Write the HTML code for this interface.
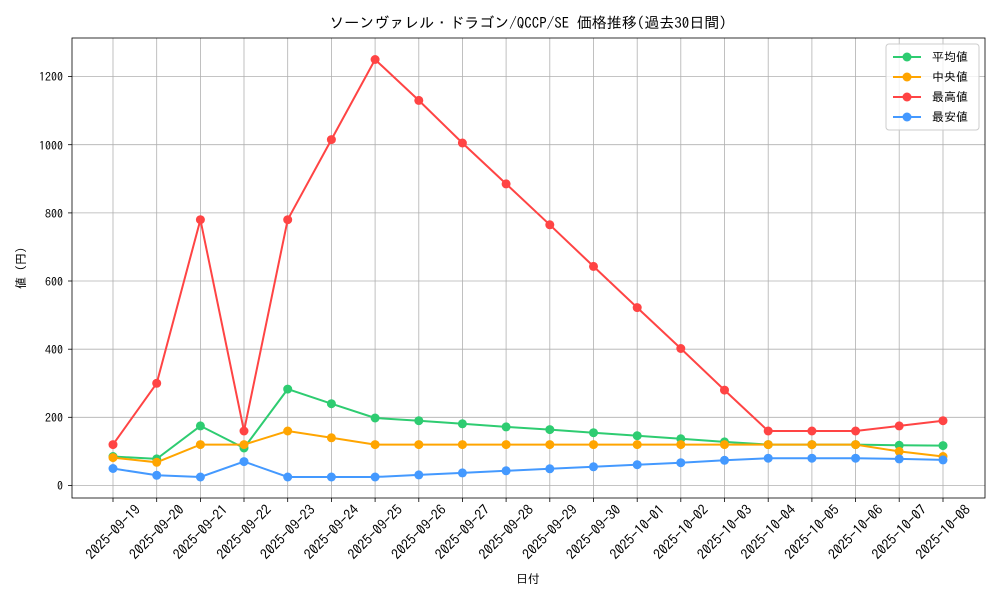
<!DOCTYPE html>
<html><head><meta charset="utf-8"><style>
body{margin:0;background:#fff}
svg text{font-family:"IPAGothic","Noto Sans CJK JP",sans-serif;fill:#000}
</style></head><body>
<svg width="1000" height="600" xmlns="http://www.w3.org/2000/svg">
<rect width="1000" height="600" fill="#fff"/>
<text x="528" y="28" font-size="15" text-anchor="middle">ソーンヴァレル・ドラゴン/QCCP/SE 価格推移(過去30日間)</text>
<g stroke="#b0b0b0" stroke-width="0.8">
<line x1="72" x2="985" y1="485.5" y2="485.5"/><line x1="72" x2="985" y1="417.3" y2="417.3"/><line x1="72" x2="985" y1="349.2" y2="349.2"/><line x1="72" x2="985" y1="281" y2="281"/><line x1="72" x2="985" y1="212.9" y2="212.9"/><line x1="72" x2="985" y1="144.7" y2="144.7"/><line x1="72" x2="985" y1="76.6" y2="76.6"/>
<line y1="38" y2="498" x1="113" x2="113"/><line y1="38" y2="498" x1="156.7" x2="156.7"/><line y1="38" y2="498" x1="200.4" x2="200.4"/><line y1="38" y2="498" x1="244" x2="244"/><line y1="38" y2="498" x1="287.7" x2="287.7"/><line y1="38" y2="498" x1="331.4" x2="331.4"/><line y1="38" y2="498" x1="375.1" x2="375.1"/><line y1="38" y2="498" x1="418.8" x2="418.8"/><line y1="38" y2="498" x1="462.4" x2="462.4"/><line y1="38" y2="498" x1="506.1" x2="506.1"/><line y1="38" y2="498" x1="549.8" x2="549.8"/><line y1="38" y2="498" x1="593.5" x2="593.5"/><line y1="38" y2="498" x1="637.2" x2="637.2"/><line y1="38" y2="498" x1="680.8" x2="680.8"/><line y1="38" y2="498" x1="724.5" x2="724.5"/><line y1="38" y2="498" x1="768.2" x2="768.2"/><line y1="38" y2="498" x1="811.9" x2="811.9"/><line y1="38" y2="498" x1="855.6" x2="855.6"/><line y1="38" y2="498" x1="899.2" x2="899.2"/><line y1="38" y2="498" x1="943" x2="943"/>
</g>
<rect x="72" y="38" width="913" height="460" fill="none" stroke="#000" stroke-width="0.8"/>
<g font-size="12" text-anchor="end">
<text x="63" y="490">0</text><text x="63" y="422">200</text><text x="63" y="354">400</text><text x="63" y="286">600</text><text x="63" y="218">800</text><text x="63" y="150">1000</text><text x="63" y="81">1200</text>
</g>
<g stroke="#000" stroke-width="0.8">
<line x1="68" x2="72" y1="485.5" y2="485.5"/><line x1="68" x2="72" y1="417.3" y2="417.3"/><line x1="68" x2="72" y1="349.2" y2="349.2"/><line x1="68" x2="72" y1="281" y2="281"/><line x1="68" x2="72" y1="212.9" y2="212.9"/><line x1="68" x2="72" y1="144.7" y2="144.7"/><line x1="68" x2="72" y1="76.6" y2="76.6"/>
<line y1="498" y2="502" x1="113" x2="113"/><line y1="498" y2="502" x1="156.7" x2="156.7"/><line y1="498" y2="502" x1="200.4" x2="200.4"/><line y1="498" y2="502" x1="244" x2="244"/><line y1="498" y2="502" x1="287.7" x2="287.7"/><line y1="498" y2="502" x1="331.4" x2="331.4"/><line y1="498" y2="502" x1="375.1" x2="375.1"/><line y1="498" y2="502" x1="418.8" x2="418.8"/><line y1="498" y2="502" x1="462.4" x2="462.4"/><line y1="498" y2="502" x1="506.1" x2="506.1"/><line y1="498" y2="502" x1="549.8" x2="549.8"/><line y1="498" y2="502" x1="593.5" x2="593.5"/><line y1="498" y2="502" x1="637.2" x2="637.2"/><line y1="498" y2="502" x1="680.8" x2="680.8"/><line y1="498" y2="502" x1="724.5" x2="724.5"/><line y1="498" y2="502" x1="768.2" x2="768.2"/><line y1="498" y2="502" x1="811.9" x2="811.9"/><line y1="498" y2="502" x1="855.6" x2="855.6"/><line y1="498" y2="502" x1="899.2" x2="899.2"/><line y1="498" y2="502" x1="943" x2="943"/>
</g>
<g font-size="14" text-anchor="middle">
<text dy="0.35em" transform="translate(113,532) rotate(-45)">2025-09-19</text>
<text dy="0.35em" transform="translate(156.7,532) rotate(-45)">2025-09-20</text>
<text dy="0.35em" transform="translate(200.4,532) rotate(-45)">2025-09-21</text>
<text dy="0.35em" transform="translate(244,532) rotate(-45)">2025-09-22</text>
<text dy="0.35em" transform="translate(287.7,532) rotate(-45)">2025-09-23</text>
<text dy="0.35em" transform="translate(331.4,532) rotate(-45)">2025-09-24</text>
<text dy="0.35em" transform="translate(375.1,532) rotate(-45)">2025-09-25</text>
<text dy="0.35em" transform="translate(418.8,532) rotate(-45)">2025-09-26</text>
<text dy="0.35em" transform="translate(462.4,532) rotate(-45)">2025-09-27</text>
<text dy="0.35em" transform="translate(506.1,532) rotate(-45)">2025-09-28</text>
<text dy="0.35em" transform="translate(549.8,532) rotate(-45)">2025-09-29</text>
<text dy="0.35em" transform="translate(593.5,532) rotate(-45)">2025-09-30</text>
<text dy="0.35em" transform="translate(637.2,532) rotate(-45)">2025-10-01</text>
<text dy="0.35em" transform="translate(680.8,532) rotate(-45)">2025-10-02</text>
<text dy="0.35em" transform="translate(724.5,532) rotate(-45)">2025-10-03</text>
<text dy="0.35em" transform="translate(768.2,532) rotate(-45)">2025-10-04</text>
<text dy="0.35em" transform="translate(811.9,532) rotate(-45)">2025-10-05</text>
<text dy="0.35em" transform="translate(855.6,532) rotate(-45)">2025-10-06</text>
<text dy="0.35em" transform="translate(899.2,532) rotate(-45)">2025-10-07</text>
<text dy="0.35em" transform="translate(943,532) rotate(-45)">2025-10-08</text>
</g>
<text x="528" y="583" font-size="12" text-anchor="middle">日付</text>
<text transform="translate(25,268) rotate(-90)" font-size="12" text-anchor="middle">値 (円)</text>
<polyline fill="none" stroke="#2ecc71" stroke-width="2" points="113,456.5 156.7,458.9 200.4,425.9 244,448 287.7,389.1 331.4,403.7 375.1,418 418.8,420.7 462.4,423.8 506.1,426.9 549.8,429.6 593.5,432.7 637.2,435.7 680.8,438.8 724.5,441.9 768.2,444.6 811.9,444.6 855.6,444.6 899.2,445.3 943,445.6"/>
<polyline fill="none" stroke="#ffa500" stroke-width="2" points="113,457.6 156.7,462.3 200.4,444.6 244,444.6 287.7,431 331.4,437.8 375.1,444.6 418.8,444.6 462.4,444.6 506.1,444.6 549.8,444.6 593.5,444.6 637.2,444.6 680.8,444.6 724.5,444.6 768.2,444.6 811.9,444.6 855.6,444.6 899.2,451.4 943,456.5"/>
<polyline fill="none" stroke="#ff4444" stroke-width="2" points="113,444.6 156.7,383.3 200.4,219.7 244,431 287.7,219.7 331.4,139.6 375.1,59.5 418.8,100.4 462.4,143 506.1,183.9 549.8,224.8 593.5,266.4 637.2,307.6 680.8,348.5 724.5,390.1 768.2,431 811.9,431 855.6,431 899.2,425.9 943,420.7"/>
<polyline fill="none" stroke="#4499ff" stroke-width="2" points="113,468.5 156.7,475.3 200.4,477 244,461.6 287.7,477 331.4,477 375.1,477 418.8,474.9 462.4,472.9 506.1,470.8 549.8,468.8 593.5,466.8 637.2,464.7 680.8,462.7 724.5,460.3 768.2,458.2 811.9,458.2 855.6,458.2 899.2,458.9 943,459.9"/>
<g fill="#2ecc71"><circle cx="113" cy="456.5" r="4.5"/><circle cx="156.7" cy="458.9" r="4.5"/><circle cx="200.4" cy="425.9" r="4.5"/><circle cx="244" cy="448" r="4.5"/><circle cx="287.7" cy="389.1" r="4.5"/><circle cx="331.4" cy="403.7" r="4.5"/><circle cx="375.1" cy="418" r="4.5"/><circle cx="418.8" cy="420.7" r="4.5"/><circle cx="462.4" cy="423.8" r="4.5"/><circle cx="506.1" cy="426.9" r="4.5"/><circle cx="549.8" cy="429.6" r="4.5"/><circle cx="593.5" cy="432.7" r="4.5"/><circle cx="637.2" cy="435.7" r="4.5"/><circle cx="680.8" cy="438.8" r="4.5"/><circle cx="724.5" cy="441.9" r="4.5"/><circle cx="768.2" cy="444.6" r="4.5"/><circle cx="811.9" cy="444.6" r="4.5"/><circle cx="855.6" cy="444.6" r="4.5"/><circle cx="899.2" cy="445.3" r="4.5"/><circle cx="943" cy="445.6" r="4.5"/></g>
<g fill="#ffa500"><circle cx="113" cy="457.6" r="4.5"/><circle cx="156.7" cy="462.3" r="4.5"/><circle cx="200.4" cy="444.6" r="4.5"/><circle cx="244" cy="444.6" r="4.5"/><circle cx="287.7" cy="431" r="4.5"/><circle cx="331.4" cy="437.8" r="4.5"/><circle cx="375.1" cy="444.6" r="4.5"/><circle cx="418.8" cy="444.6" r="4.5"/><circle cx="462.4" cy="444.6" r="4.5"/><circle cx="506.1" cy="444.6" r="4.5"/><circle cx="549.8" cy="444.6" r="4.5"/><circle cx="593.5" cy="444.6" r="4.5"/><circle cx="637.2" cy="444.6" r="4.5"/><circle cx="680.8" cy="444.6" r="4.5"/><circle cx="724.5" cy="444.6" r="4.5"/><circle cx="768.2" cy="444.6" r="4.5"/><circle cx="811.9" cy="444.6" r="4.5"/><circle cx="855.6" cy="444.6" r="4.5"/><circle cx="899.2" cy="451.4" r="4.5"/><circle cx="943" cy="456.5" r="4.5"/></g>
<g fill="#ff4444"><circle cx="113" cy="444.6" r="4.5"/><circle cx="156.7" cy="383.3" r="4.5"/><circle cx="200.4" cy="219.7" r="4.5"/><circle cx="244" cy="431" r="4.5"/><circle cx="287.7" cy="219.7" r="4.5"/><circle cx="331.4" cy="139.6" r="4.5"/><circle cx="375.1" cy="59.5" r="4.5"/><circle cx="418.8" cy="100.4" r="4.5"/><circle cx="462.4" cy="143" r="4.5"/><circle cx="506.1" cy="183.9" r="4.5"/><circle cx="549.8" cy="224.8" r="4.5"/><circle cx="593.5" cy="266.4" r="4.5"/><circle cx="637.2" cy="307.6" r="4.5"/><circle cx="680.8" cy="348.5" r="4.5"/><circle cx="724.5" cy="390.1" r="4.5"/><circle cx="768.2" cy="431" r="4.5"/><circle cx="811.9" cy="431" r="4.5"/><circle cx="855.6" cy="431" r="4.5"/><circle cx="899.2" cy="425.9" r="4.5"/><circle cx="943" cy="420.7" r="4.5"/></g>
<g fill="#4499ff"><circle cx="113" cy="468.5" r="4.5"/><circle cx="156.7" cy="475.3" r="4.5"/><circle cx="200.4" cy="477" r="4.5"/><circle cx="244" cy="461.6" r="4.5"/><circle cx="287.7" cy="477" r="4.5"/><circle cx="331.4" cy="477" r="4.5"/><circle cx="375.1" cy="477" r="4.5"/><circle cx="418.8" cy="474.9" r="4.5"/><circle cx="462.4" cy="472.9" r="4.5"/><circle cx="506.1" cy="470.8" r="4.5"/><circle cx="549.8" cy="468.8" r="4.5"/><circle cx="593.5" cy="466.8" r="4.5"/><circle cx="637.2" cy="464.7" r="4.5"/><circle cx="680.8" cy="462.7" r="4.5"/><circle cx="724.5" cy="460.3" r="4.5"/><circle cx="768.2" cy="458.2" r="4.5"/><circle cx="811.9" cy="458.2" r="4.5"/><circle cx="855.6" cy="458.2" r="4.5"/><circle cx="899.2" cy="458.9" r="4.5"/><circle cx="943" cy="459.9" r="4.5"/></g>
<rect x="886" y="44" width="93" height="86" rx="3" fill="#fff" fill-opacity="0.8" stroke="#ccc"/>
<g stroke-width="2">
<line x1="893" x2="921" y1="57" y2="57" stroke="#2ecc71"/><circle cx="907" cy="57" r="4.5" fill="#2ecc71"/>
<line x1="893" x2="921" y1="77" y2="77" stroke="#ffa500"/><circle cx="907" cy="77" r="4.5" fill="#ffa500"/>
<line x1="893" x2="921" y1="97" y2="97" stroke="#ff4444"/><circle cx="907" cy="97" r="4.5" fill="#ff4444"/>
<line x1="893" x2="921" y1="117" y2="117" stroke="#4499ff"/><circle cx="907" cy="117" r="4.5" fill="#4499ff"/>
</g>
<g font-size="12">
<text x="932" y="61">平均値</text><text x="932" y="81"> 中央値</text><text x="932" y="101">最高値</text><text x="932" y="121">最安値</text>
</g>
</svg>
</body></html>
